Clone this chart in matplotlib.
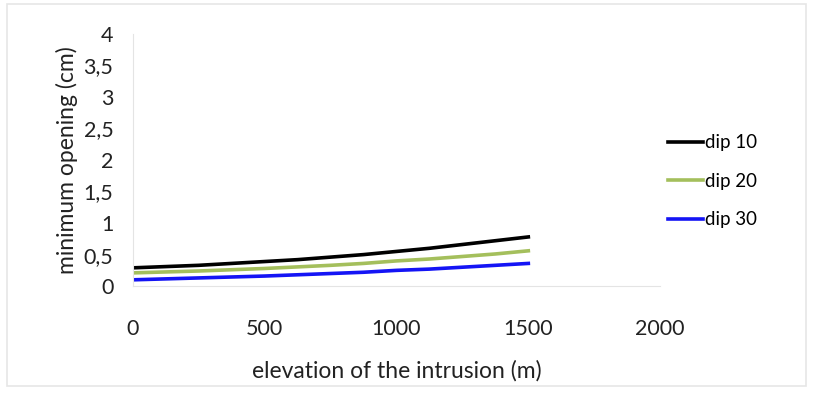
import matplotlib
matplotlib.use('Agg')
from matplotlib import pyplot as plt
from matplotlib.patches import Rectangle

elevation = [0, 125, 250, 375, 500, 625, 750, 875, 1000, 1125, 1250, 1375, 1500]
dip10 = [0.29, 0.31, 0.33, 0.36, 0.39, 0.42, 0.46, 0.50, 0.55, 0.60, 0.66, 0.72, 0.78]
dip20 = [0.21, 0.225, 0.24, 0.26, 0.28, 0.305, 0.33, 0.36, 0.40, 0.43, 0.47, 0.51, 0.56]
dip30 = [0.10, 0.115, 0.13, 0.145, 0.16, 0.18, 0.20, 0.22, 0.25, 0.27, 0.30, 0.33, 0.36]

x_ticks = [0, 500, 1000, 1500, 2000]
y_ticks = [0, 0.5, 1, 1.5, 2, 2.5, 3, 3.5, 4]
y_tick_labels = ['0', '0,5', '1', '1,5', '2', '2,5', '3', '3,5', '4']

plt.rcParams['font.family'] = ['Lato', 'DejaVu Sans']

fig = plt.figure(figsize=(8.15, 4.03), dpi=100)
# faint outer frame like the original screenshot
fig.patches.append(Rectangle((0.009, 0.042), 0.98, 0.948, transform=fig.transFigure,
                             fill=False, edgecolor='#e6e6e6', lw=1.2))
ax = fig.add_axes([0.163, 0.29, 0.647, 0.626])

ax.plot(elevation, dip10, color='black', lw=2.6, label='dip 10')
ax.plot(elevation, dip20, color='#a4bf5c', lw=2.6, label='dip 20')
ax.plot(elevation, dip30, color='#1414f5', lw=2.6, label='dip 30')

ax.set_xlim(0, 2000)
ax.set_ylim(0, 4)
ax.set_xticks(x_ticks)
ax.set_yticks(y_ticks)
ax.set_yticklabels(y_tick_labels)
ax.tick_params(axis='x', length=0, pad=24, labelsize=15.5, colors='#222222')
ax.tick_params(axis='y', length=0, pad=14, labelsize=15.5, colors='#222222')

for side in ['top', 'right']:
    ax.spines[side].set_visible(False)
ax.spines['left'].set_color('#e4e4e4')
ax.spines['bottom'].set_color('#e4e4e4')

ax.set_xlabel('elevation of the intrusion (m)', fontsize=16.5, labelpad=15, color='#222222')
ax.set_ylabel('minimum opening (cm)', fontsize=16.5, labelpad=4, color='#222222')

ax.legend(loc='center left', bbox_to_anchor=(0.982, 0.415), frameon=False,
          fontsize=13.5, handlelength=1.9, handletextpad=0.1, labelspacing=1.15)

fig.savefig('out.png', dpi=100)
